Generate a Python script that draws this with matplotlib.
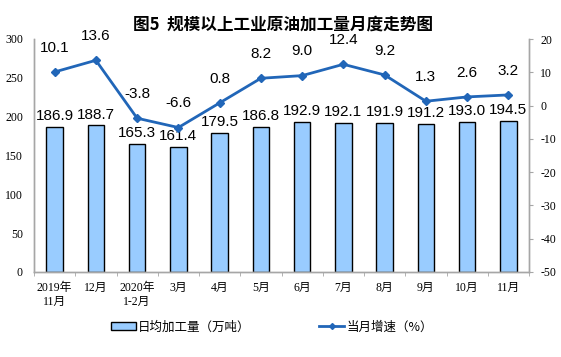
import numpy as np
import matplotlib.pyplot as plt
from matplotlib.lines import Line2D
from matplotlib.patches import Patch

plt.rcParams['font.family'] = ['Noto Sans CJK SC', 'DejaVu Sans']
plt.rcParams['axes.unicode_minus'] = False

months = ['2019年\n11月', '12月', '2020年\n1-2月', '3月', '4月', '5月',
          '6月', '7月', '8月', '9月', '10月', '11月']
daily_output = [186.9, 188.7, 165.3, 161.4, 179.5, 186.8,
                192.9, 192.1, 191.9, 191.2, 193.0, 194.5]
growth = [10.1, 13.6, -3.8, -6.6, 0.8, 8.2, 9.0, 12.4, 9.2, 1.3, 2.6, 3.2]

bar_color = '#99CCFF'
line_color = '#2166B8'
axis_color = '#A6A6A6'
serif = ['Liberation Serif', 'Noto Sans CJK SC']
sans = ['Liberation Sans', 'DejaVu Sans']

fig = plt.figure(figsize=(5.61, 3.57), dpi=100)
ax = fig.add_axes([34 / 561, 1 - 272 / 357, 495 / 561, 233 / 357])
ax2 = ax.twinx()

x = np.arange(len(months))
ax.bar(x, daily_output, width=0.4, color=bar_color, edgecolor='black', linewidth=1.0, zorder=2)
for xi, v in zip(x, daily_output):
    ax.text(xi, v + 14, f'{v:.1f}', ha='center', va='center', fontsize=11, family=sans)

ax.set_ylim(0, 300)
ax.set_yticks(range(0, 301, 50))
ax.set_xlim(-0.5, len(months) - 0.5)
ax.set_xticks(x)
ax.set_xticklabels(months, fontsize=8.5, family=serif, linespacing=1.25)
ax.set_xticks(np.arange(-0.5, len(months), 1.0), minor=True)
ax.tick_params(axis='x', which='major', length=0, pad=7)
ax.tick_params(axis='x', which='minor', length=3, color=axis_color, direction='out')
ax.tick_params(axis='y', length=0, labelsize=8.5, pad=8)
for lab in ax.get_yticklabels():
    lab.set_family(serif)

ax2.plot(x, growth, color=line_color, linewidth=2, marker='D', markersize=4.5, zorder=3)
for xi, v in zip(x, growth):
    ax2.text(xi, v + 7.3, f'{v:.1f}', ha='center', va='center', fontsize=11, family=sans)
ax2.set_ylim(-50, 20)
ax2.set_yticks(range(-50, 21, 10))
ax2.tick_params(axis='y', length=3, color=axis_color, labelsize=8.5, pad=5)
for lab in ax2.get_yticklabels():
    lab.set_family(serif)

for a in (ax, ax2):
    a.spines['top'].set_visible(False)
    for s in ('left', 'right', 'bottom'):
        a.spines[s].set_color(axis_color)
        a.spines[s].set_linewidth(1.0)

fig.text(283 / 561, 1 - 25 / 357, '图5  规模以上工业原油加工量月度走势图', ha='center', va='center',
         fontsize=12, fontweight='bold')

handles = [Patch(facecolor=bar_color, edgecolor='black', linewidth=1.0),
           Line2D([], [], color=line_color, linewidth=2, marker='D', markersize=3)]
fig.legend(handles, ['日均加工量（万吨）', '当月增速（%）'], loc='center',
           bbox_to_anchor=(272 / 561, 1 - 327 / 357), ncol=2, frameon=False, fontsize=9,
           handlelength=2.0, handleheight=0.6, handletextpad=0.2, columnspacing=5.5)

fig.savefig('out.png', dpi=100)
